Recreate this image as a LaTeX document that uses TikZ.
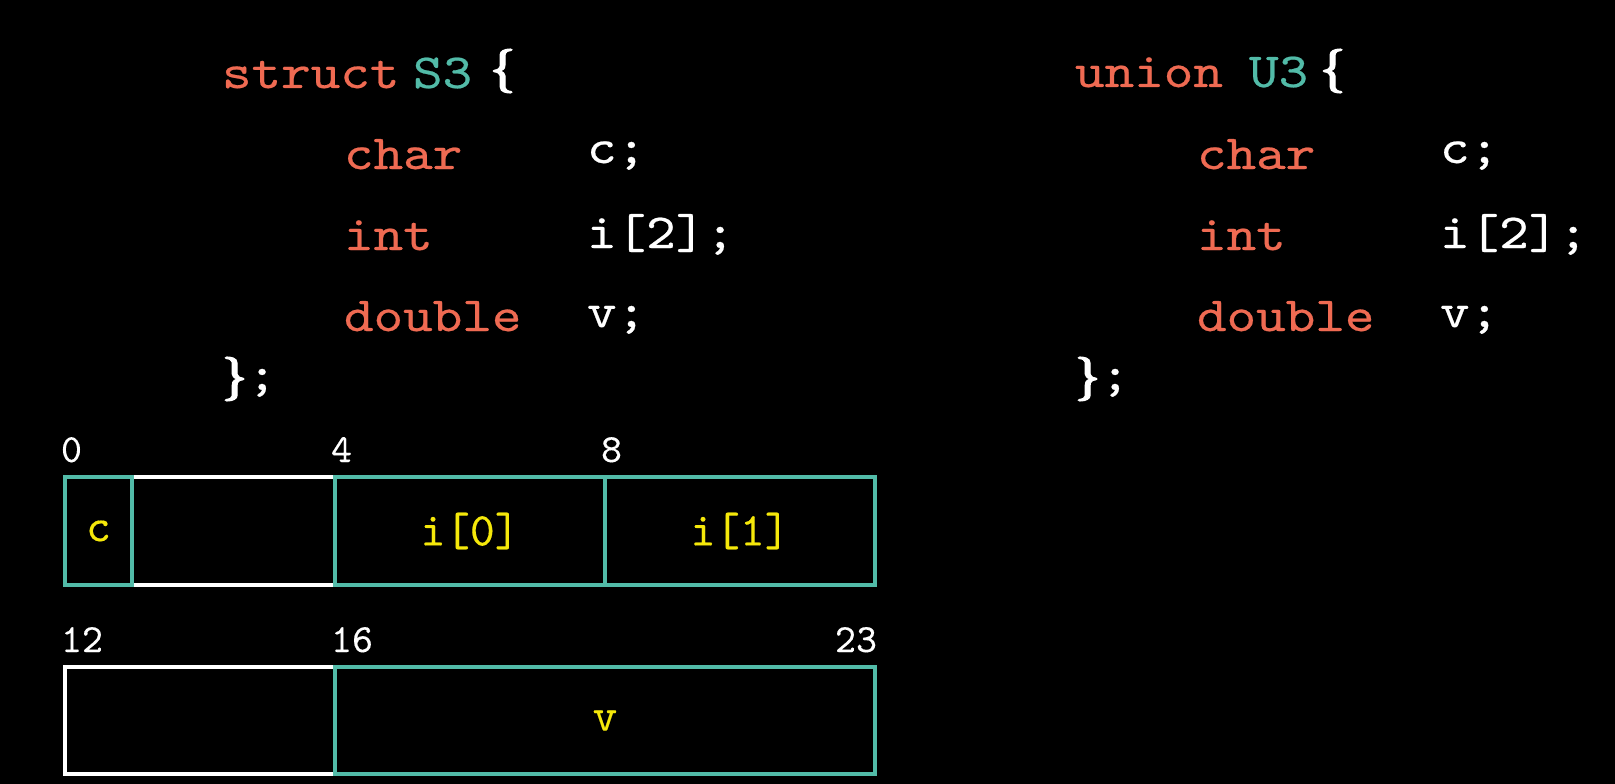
\documentclass[tikz,border=0pt]{standalone}
\usepackage{fontspec}
\newfontfamily\codefont{lmmono10-regular.otf}[FakeStretch=1.15,FakeBold=0.45]
\newfontfamily\bracefont{lmroman10-bold.otf}[FakeBold=2.5]
\newfontfamily\numfont{lmmono10-regular.otf}[FakeBold=0.25]
\definecolor{kworange}{RGB}{239,106,82}
\definecolor{tealc}{RGB}{82,187,168}
\definecolor{lblyellow}{RGB}{245,232,10}
\tikzset{
  kw/.style={anchor=base west, inner sep=0pt, outer sep=0pt, text=kworange, font=\codefont\fontsize{49}{49}\selectfont},
  tn/.style={kw, text=tealc},
  mem/.style={kw, text=white},
  bracetxt/.style={anchor=base west, inner sep=0pt, outer sep=0pt, text=white, font=\bracefont\fontsize{44}{44}\selectfont},
  num/.style={anchor=base west, inner sep=0pt, outer sep=0pt, text=white, font=\numfont\fontsize{40}{40}\selectfont},
  cell/.style={rectangle, inner sep=0pt, outer sep=0pt, line width=4.5pt, text=lblyellow, font=\numfont\fontsize{47}{47}\selectfont},
  tbox/.style={cell, draw=tealc},
  wbox/.style={cell, draw=white},
}
\begin{document}
\begin{tikzpicture}[x=1pt,y=-1pt]
\fill[black] (0,0) rectangle (1615,784);
\useasboundingbox (0,0) rectangle (1615,784);
% struct S3
\node[kw] (skw) at (222,88) {struct};
\node[tn] (sname) at (413,88) {S3};
\node[bracetxt] (sopen) at (490,82) {\{};
\node[kw] (schar) at (344,169) {char};
\node[kw] (sint) at (344,250) {int};
\node[kw] (sdbl) at (344,331) {double};
\node[mem] (sc) at (587,163) {c;};
\node[mem] (si) at (587,248) {i[2];};
\node[mem] (sv) at (587,327) {v;};
\node[bracetxt] (sclose) at (222,390) {\}{\codefont\fontsize{49}{49}\selectfont;}};
% union U3
\node[kw] (ukw) at (1075,87) {union};
\node[tn] (uname) at (1249,87) {U3};
\node[bracetxt] (uopen) at (1320,82) {\{};
\node[kw] (uchar) at (1197,169) {char};
\node[kw] (uint) at (1197,250) {int};
\node[kw] (udbl) at (1197,331) {double};
\node[mem] (uc) at (1440,163) {c;};
\node[mem] (ui) at (1440,248) {i[2];};
\node[mem] (uv) at (1440,327) {v;};
\node[bracetxt] (uclose) at (1075,390) {\}{\codefont\fontsize{49}{49}\selectfont;}};
% offsets
\node[num] (n0) at (61,462) {0};
\node[num] (n4) at (331,462) {4};
\node[num] (n8) at (601,462) {8};
\node[num] (n12) at (61,652) {12};
\node[num] (n16) at (331,652) {16};
\node[num, anchor=base east] (n23) at (877,652) {23};
% row 1
\node[wbox, minimum width=203pt, minimum height=108pt] (pad1) at (233.5,531) {};
\node[tbox, minimum width=67pt, minimum height=108pt] (bc) at (98.5,531) {c};
\node[tbox, minimum width=270pt, minimum height=108pt] (bi0) at (470,531) {i[0]};
\node[tbox, minimum width=270pt, minimum height=108pt] (bi1) at (740,531) {i[1]};
% row 2
\node[wbox, minimum width=270pt, minimum height=107pt] (pad2) at (200,720.5) {};
\node[tbox, minimum width=540pt, minimum height=107pt] (bv) at (605,720.5) {v};
\end{tikzpicture}
\end{document}
